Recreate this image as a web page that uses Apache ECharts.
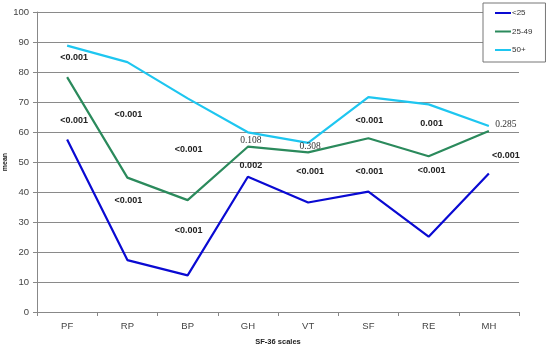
<!DOCTYPE html>
<html><head><meta charset="utf-8">
<script src="https://cdn.jsdelivr.net/npm/echarts@6/dist/echarts.min.js"></script>
<style>html,body{margin:0;padding:0;background:#fff}#c{width:550px;height:349px}</style>
</head><body><div id="c"></div>
<script>
const categories = ['PF','RP','BP','GH','VT','SF','RE','MH'];
const seriesNames = ['<25','25-49','50+'];
const under25 = [57.5, 17.3, 12.2, 45.1, 36.5, 40.1, 25.1, 46.2];
const age25to49 = [78.3, 44.8, 37.3, 55.1, 53.2, 57.9, 51.9, 60.3];
const age50plus = [88.8, 83.3, 71.2, 59.9, 56.4, 71.6, 69.2, 62.0];
const yTicks = [0,10,20,30,40,50,60,70,80,90,100];
// p-value annotations: [category index, value, text, style]
const pLabels = [
  [0, 84.7, '<0.001', 'b'], [0, 63.8, '<0.001', 'b'],
  [1, 65.7, '<0.001', 'b'], [1, 37.0, '<0.001', 'b'],
  [2, 54.0, '<0.001', 'b'], [2, 27.3, '<0.001', 'b'],
  [3, 57.3, '0.108', 's'], [3, 48.7, '0.002', 'b'],
  [4, 55.1, '0.308', 's'], [4, 46.7, '<0.001', 'b'],
  [5, 63.8, '<0.001', 'b'], [5, 46.7, '<0.001', 'b'],
  [6, 62.8, '0.001', 'b'], [6, 47.0, '<0.001', 'b'],
  [7, 62.4, '0.285', 's'], [7, 52.2, '<0.001', 'b']
];
const xShift = [7, 1, 1, 3, 2, 1, 3, 17];

const colors = ['#0a0ad2', '#2b8a5c', '#1ec6f0'];
const chart = echarts.init(document.getElementById('c'));
const lineSeries = [under25, age25to49, age50plus].map((d, i) => ({
  name: seriesNames[i], type: 'line', data: d, symbol: 'none',
  lineStyle: {width: 2.2, color: colors[i]}, itemStyle: {color: colors[i]}, z: 3
}));
const labelSeries = {
  type: 'scatter', symbol: 'circle', symbolSize: 1, silent: true, z: 5,
  itemStyle: {color: 'rgba(0,0,0,0)'},
  data: pLabels.map(p => ({
    value: [p[0], p[1]],
    label: {
      show: true, position: 'inside', formatter: p[2],
      offset: [xShift[p[0]], 0],
      fontFamily: p[3] === 's' ? 'Liberation Serif' : 'Liberation Sans',
      fontWeight: p[3] === 's' ? 'normal' : 'bold',
      fontSize: p[3] === 's' ? 9.5 : 9,
      color: p[3] === 's' ? '#333' : '#222',
      opacity: 1
    }
  }))
};
chart.setOption({
  animation: false,
  grid: {left: 37, right: 31, top: 12, bottom: 37, outerBoundsMode: 'none', containLabel: false},
  legend: {
    data: seriesNames, orient: 'vertical', left: 483, top: 3,
    padding: [6, 13, 8, 12], itemGap: 10.5,
    icon: 'rect', itemWidth: 16, itemHeight: 2,
    borderColor: '#777', borderWidth: 1, backgroundColor: '#fff',
    textStyle: {fontFamily: 'Liberation Sans', fontSize: 8, color: '#333', padding: [0,0,0,-4]}
  },
  xAxis: {
    type: 'category', data: categories, boundaryGap: true,
    name: 'SF-36 scales', nameLocation: 'middle', nameGap: 26, nameMoveOverlap: false,
    nameTextStyle: {fontFamily: 'Liberation Sans', fontWeight: 'bold', fontSize: 7.5, color: '#222'},
    axisLine: {lineStyle: {color: '#888', width: 1}},
    axisTick: {show: true, length: 4, lineStyle: {color: '#888'}},
    axisLabel: {fontFamily: 'Liberation Sans', fontSize: 9.5, color: '#444', margin: 9}
  },
  yAxis: {
    type: 'value', min: 0, max: 100, interval: 10,
    name: 'mean', nameLocation: 'middle', nameGap: 28, nameRotate: 90, nameMoveOverlap: false,
    nameTextStyle: {fontFamily: 'Liberation Sans', fontWeight: 'bold', fontSize: 7, color: '#222'},
    axisLine: {show: true, lineStyle: {color: '#888', width: 1}},
    axisTick: {show: true, length: 4, lineStyle: {color: '#888'}},
    axisLabel: {fontFamily: 'Liberation Sans', fontSize: 9.5, color: '#444', margin: 8,
      formatter: v => yTicks.includes(v) ? String(v) : ''},
    splitLine: {lineStyle: {color: '#8a8a8a', width: 1}}
  },
  series: [...lineSeries, labelSeries]
});
</script></body></html>
